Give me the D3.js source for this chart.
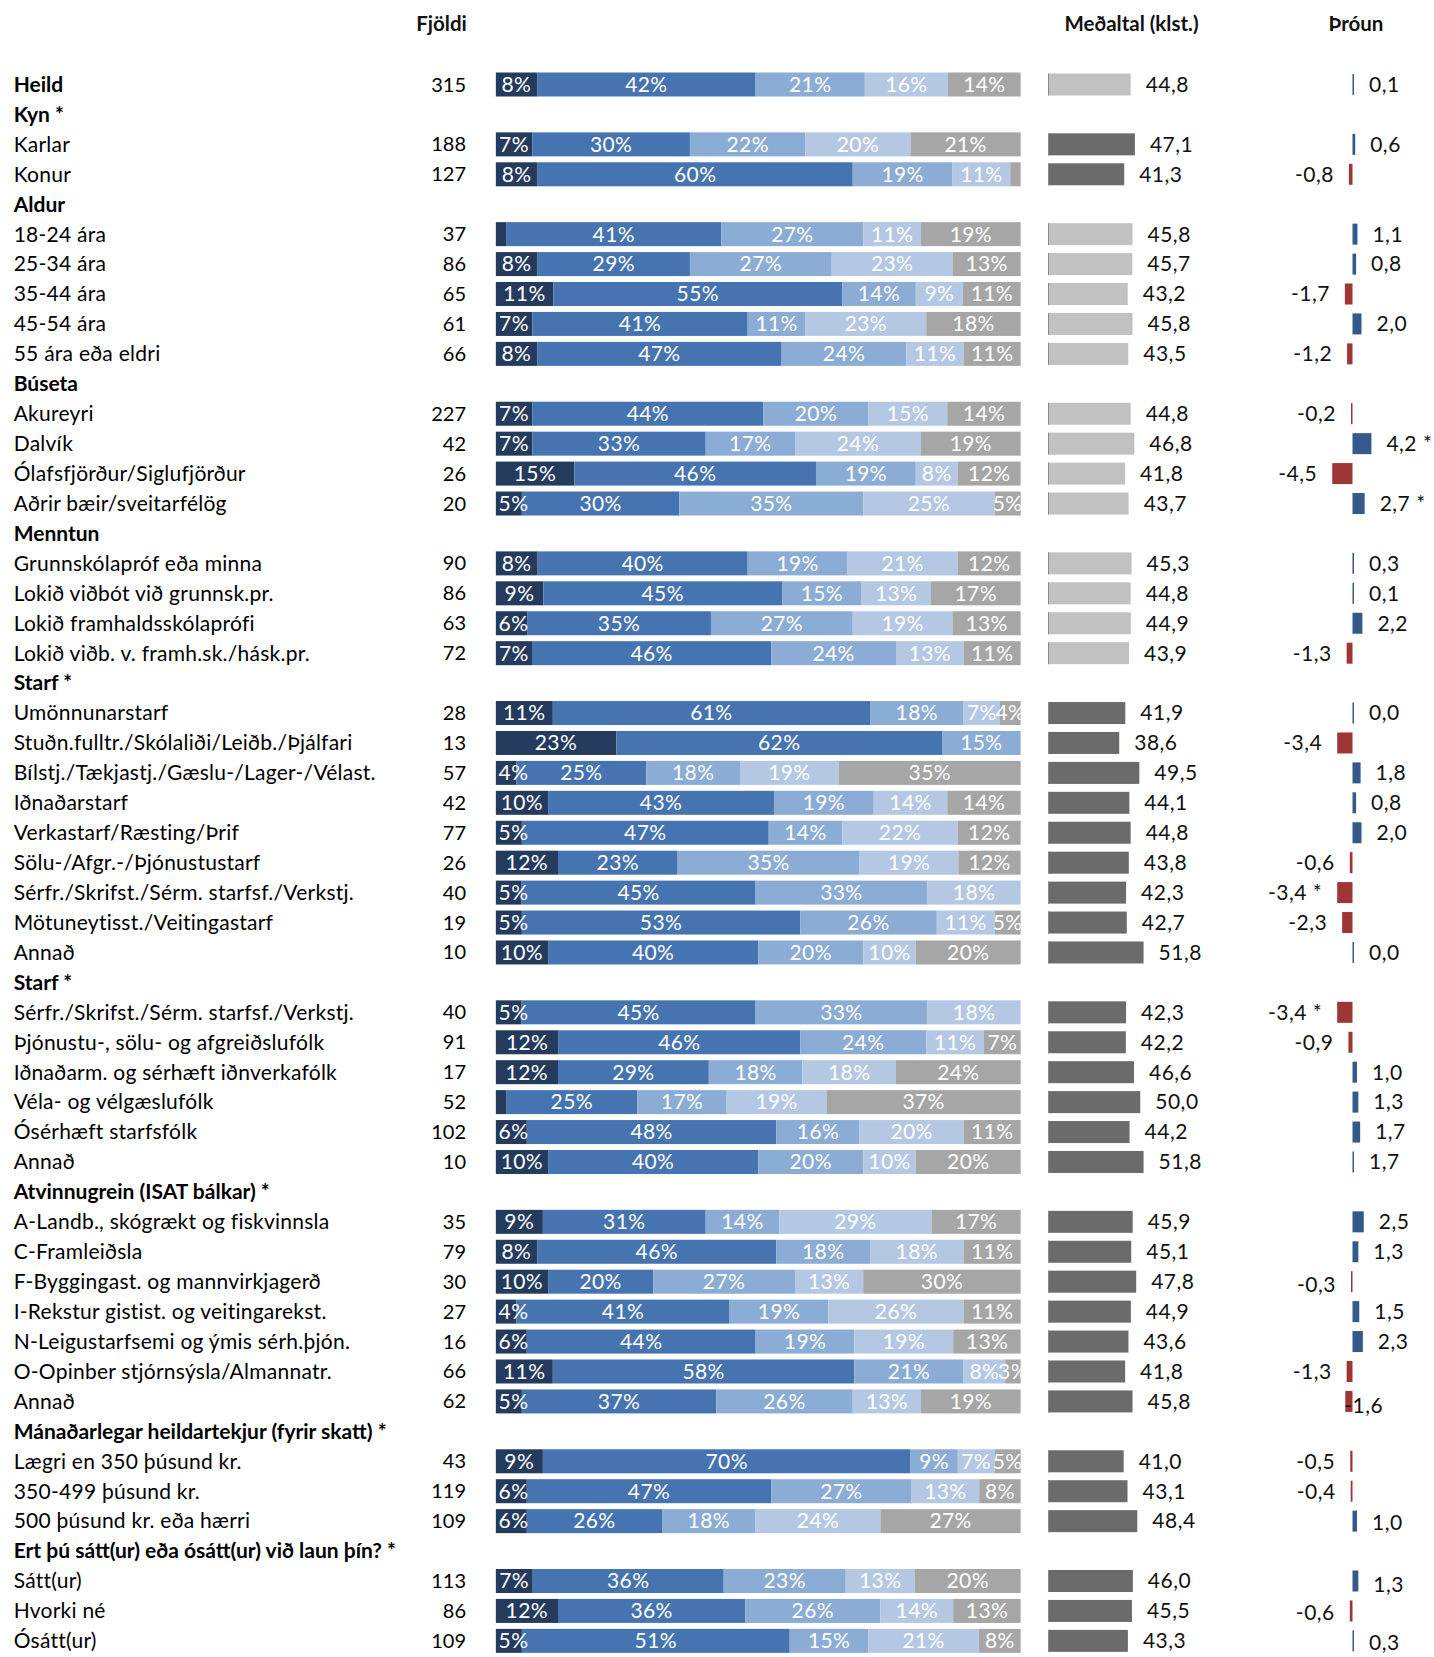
<!DOCTYPE html>
<html><head><meta charset="utf-8">
<script src="https://cdn.jsdelivr.net/npm/d3@7"></script>
<style>
html,body{margin:0;padding:0;background:#fff;}
svg{display:block;font-family:Lato,"Open Sans",sans-serif;}
</style></head><body>
<svg id="chart" width="1434" height="1657"></svg>
<script>
const categories = [
"Heild","Kyn *","Karlar","Konur","Aldur","18-24 ára","25-34 ára","35-44 ára","45-54 ára","55 ára eða eldri",
"Búseta","Akureyri","Dalvík","Ólafsfjörður/Siglufjörður","Aðrir bæir/sveitarfélög",
"Menntun","Grunnskólapróf eða minna","Lokið viðbót við grunnsk.pr.","Lokið framhaldsskólaprófi","Lokið viðb. v. framh.sk./hásk.pr.",
"Starf *","Umönnunarstarf","Stuðn.fulltr./Skólaliði/Leiðb./Þjálfari","Bílstj./Tækjastj./Gæslu-/Lager-/Vélast.","Iðnaðarstarf","Verkastarf/Ræsting/Þrif","Sölu-/Afgr.-/Þjónustustarf","Sérfr./Skrifst./Sérm. starfsf./Verkstj.","Mötuneytisst./Veitingastarf","Annað",
"Starf *","Sérfr./Skrifst./Sérm. starfsf./Verkstj.","Þjónustu-, sölu- og afgreiðslufólk","Iðnaðarm. og sérhæft iðnverkafólk","Véla- og vélgæslufólk","Ósérhæft starfsfólk","Annað",
"Atvinnugrein (ISAT bálkar) *","A-Landb., skógrækt og fiskvinnsla","C-Framleiðsla","F-Byggingast. og mannvirkjagerð","I-Rekstur gistist. og veitingarekst.","N-Leigustarfsemi og ýmis sérh.þjón.","O-Opinber stjórnsýsla/Almannatr.","Annað",
"Mánaðarlegar heildartekjur (fyrir skatt) *","Lægri en 350 þúsund kr.","350-499 þúsund kr.","500 þúsund kr. eða hærri",
"Ert þú sátt(ur) eða ósátt(ur) við laun þín? *","Sátt(ur)","Hvorki né","Ósátt(ur)"
];
const counts = [315,null,188,127,null,37,86,65,61,66,null,227,42,26,20,null,90,86,63,72,null,28,13,57,42,77,26,40,19,10,null,40,91,17,52,102,10,null,35,79,30,27,16,66,62,null,43,119,109,null,113,86,109];
const seg1 = [8,null,7,8,null,2,8,11,7,8,null,7,7,15,5,null,8,9,6,7,null,11,23,4,10,5,12,5,5,10,null,5,12,12,2,6,10,null,9,8,10,4,6,11,5,null,9,6,6,null,7,12,5];
const seg2 = [42,null,30,60,null,41,29,55,41,47,null,44,33,46,30,null,40,45,35,46,null,61,62,25,43,47,23,45,53,40,null,45,46,29,25,48,40,null,31,46,20,41,44,58,37,null,70,47,26,null,36,36,51];
const seg3 = [21,null,22,19,null,27,27,14,11,24,null,20,17,19,35,null,19,15,27,24,null,18,15,18,19,14,35,33,26,20,null,33,24,18,17,16,20,null,14,18,27,19,19,21,26,null,9,27,18,null,23,26,15];
const seg4 = [16,null,20,11,null,11,23,9,23,11,null,15,24,8,25,null,21,13,19,13,null,7,0,19,14,22,19,18,11,10,null,18,11,18,19,20,10,null,29,18,13,26,19,8,13,null,7,13,24,null,13,14,21];
const seg5 = [14,null,21,2,null,19,13,11,18,11,null,14,19,12,5,null,12,17,13,11,null,4,0,35,14,12,12,0,5,20,null,0,7,24,37,11,20,null,17,11,30,11,13,3,19,null,5,8,27,null,20,13,8];
const meanHours = [44.8,null,47.1,41.3,null,45.8,45.7,43.2,45.8,43.5,null,44.8,46.8,41.8,43.7,null,45.3,44.8,44.9,43.9,null,41.9,38.6,49.5,44.1,44.8,43.8,42.3,42.7,51.8,null,42.3,42.2,46.6,50.0,44.2,51.8,null,45.9,45.1,47.8,44.9,43.6,41.8,45.8,null,41.0,43.1,48.4,null,46.0,45.5,43.3];
const trendBars = [0.1,null,0.6,-0.8,null,1.1,0.8,-1.7,2.0,-1.2,null,-0.2,4.2,-4.5,2.7,null,0.3,0.1,2.2,-1.3,null,0.0,-3.4,1.8,0.8,2.0,-0.6,-3.4,-2.3,0.0,null,-3.4,-0.9,1.0,1.3,1.7,0.0,null,2.5,1.3,-0.3,1.5,2.3,-1.3,-1.6,null,-0.5,-0.4,1.0,null,1.3,-0.6,0.3];
const trendText = ["0,1",null,"0,6","-0,8",null,"1,1","0,8","-1,7","2,0","-1,2",null,"-0,2","4,2 *","-4,5","2,7 *",null,"0,3","0,1","2,2","-1,3",null,"0,0","-3,4","1,8","0,8","2,0","-0,6","-3,4 *","-2,3","0,0",null,"-3,4 *","-0,9","1,0","1,3","1,7","1,7",null,"2,5","1,3","-0,3","1,5","2,3","-1,3","-1,6",null,"-0,5","-0,4","1,0",null,"1,3","-0,6","0,3"];
const headers = ["Fjöldi","Meðaltal (klst.)","Þróun"];

// styles / layout
const segColors = ["#243b5e","#4674b1","#8bacd4","#b4c8e4","#a6a6a6"];
const meanLight = "#c1c1c1", meanDark = "#6b6b6b";
const posColor = "#335a8b", negColor = "#9e3636";
const FS = 21;
// per-row trend label adjustments: [dx, dy, anchorAtBarStart]
const labelNudge = {44:[-1,4,true],40:[0,3],50:[0,4],52:[0,2],51:[0,2],48:[0,2]};

const svg = d3.select("#chart");
const idx = d3.range(categories.length);
const y = d3.scalePoint().domain(idx).range([84.5, 84.5 + 52*29.93]);
const xShare = d3.scaleLinear().domain([0,1]).range([495.6,1020.8]);
const xMean = d3.scaleLinear().domain([0,52]).range([1048,1048+52*1.845]);
const xTrend = d3.scaleLinear().domain([-5,5]).range([1352.5-22.5,1352.5+22.5]);

// headers
svg.append("g").selectAll("text").data(headers).join("text")
  .attr("x",(d,i)=>[441.5,1131.5,1356][i]).attr("y",24).attr("dy","0.35em")
  .attr("text-anchor","middle").attr("font-weight","bold").attr("font-size",20.5)
  .attr("fill","#111").text(d=>d);

// row labels
let current = "";
const rows = idx.map(i=>{
  if(counts[i]===null) current = categories[i];
  return {i, label:categories[i], isHead: counts[i]===null, n:counts[i],
    s:[seg1[i],seg2[i],seg3[i],seg4[i],seg5[i]], mean:meanHours[i], tb:trendBars[i], tt:trendText[i],
    sig: i>0 && current.trim().endsWith("*")};
});
const dataRows = rows.filter(r=>!r.isHead);

svg.append("g").selectAll("text").data(rows).join("text")
  .attr("x",13.7).attr("y",d=>y(d.i)).attr("dy","0.35em")
  .attr("font-size",FS).attr("letter-spacing",d=>(d.isHead||d.i===0)?0:0.25)
  .attr("font-weight",d=>(d.isHead||d.i===0)?"bold":"normal")
  .attr("fill","#000").text(d=>d.label);

// counts
svg.append("g").selectAll("text").data(dataRows).join("text")
  .attr("x",466).attr("y",d=>y(d.i)).attr("dy","0.35em").attr("text-anchor","end")
  .attr("font-size",20).attr("fill","#000").text(d=>d.n);

// stacked shares
const keys = ["a","b","c","d","e"];
const stackInput = dataRows.map(r=>({i:r.i,a:r.s[0],b:r.s[1],c:r.s[2],d:r.s[3],e:r.s[4]}));
const stacked = d3.stack().keys(keys).offset(d3.stackOffsetExpand)(stackInput);
const BH = 24;
svg.append("defs").append("clipPath").attr("id","shareClip").append("rect")
  .attr("x",xShare(0)).attr("y",0).attr("width",xShare(1)-xShare(0)).attr("height",1657);
const gShare = svg.append("g").attr("clip-path","url(#shareClip)");
stacked.forEach((layer,k)=>{
  gShare.append("g").selectAll("rect").data(layer).join("rect")
    .attr("x",d=>xShare(d[0])).attr("width",d=>Math.max(0,xShare(d[1])-xShare(d[0])))
    .attr("y",d=>y(d.data.i)-BH/2).attr("height",BH).attr("fill",segColors[k]);
});
stacked.forEach((layer,k)=>{
  const vis = layer.filter(d=>d.data[keys[k]]>=3);
  const t = gShare.append("g").selectAll("text").data(vis).join("text")
    .attr("y",d=>y(d.data.i)).attr("dy","0.35em").attr("text-anchor","middle")
    .attr("font-size",FS).attr("letter-spacing",0.4).attr("fill","#fff").text(d=>d.data[keys[k]]+"%");
  t.each(function(d){
    const w = this.getComputedTextLength();
    const c = (xShare(d[0])+xShare(d[1]))/2;
    const x = Math.max(c, xShare(0)+3+w/2);
    d3.select(this).attr("x",x);
  });
});

// means
const MH = 22;
const fmt = v => d3.format(".1f")(v).replace(".",",");
const gMean = svg.append("g");
gMean.selectAll("rect").data(dataRows).join("rect")
  .attr("x",xMean(0)).attr("width",d=>xMean(d.mean)-xMean(0))
  .attr("y",d=>y(d.i)-MH/2).attr("height",MH)
  .attr("fill",d=>d.sig?meanDark:meanLight);
gMean.selectAll("line").data(dataRows).join("line")
  .attr("x1",xMean(0)+0.5).attr("x2",xMean(0)+0.5)
  .attr("y1",d=>y(d.i)-MH/2).attr("y2",d=>y(d.i)+MH/2)
  .attr("stroke","#8a8a8a").attr("stroke-width",1);
gMean.selectAll("text").data(dataRows).join("text")
  .attr("x",d=>xMean(d.mean)+15).attr("y",d=>y(d.i)).attr("dy","0.35em")
  .attr("font-size",FS).attr("letter-spacing",0.5).attr("fill","#111").text(d=>fmt(d.mean));

// trend
const TH = 21;
const tw = d => Math.max(1.5,Math.abs(xTrend(d.tb)-xTrend(0)));
const gTrend = svg.append("g");
gTrend.selectAll("rect").data(dataRows).join("rect")
  .attr("x",d=>d.tb<0? xTrend(0)-tw(d) : xTrend(0))
  .attr("width",tw)
  .attr("y",d=>y(d.i)-TH/2).attr("height",TH)
  .attr("fill",d=>d.tb<0?negColor:posColor);
gTrend.selectAll("text").data(dataRows).join("text")
  .attr("x",d=>{
    const nz=labelNudge[d.i]||[0,0,false];
    if(nz[2]) return xTrend(0)-tw(d)+nz[0];
    return (d.tb<0? xTrend(0)-tw(d)-15 : xTrend(0)+tw(d)+15)+nz[0];})
  .attr("y",d=>y(d.i)+(labelNudge[d.i]||[0,0])[1]).attr("dy","0.35em")
  .attr("text-anchor",d=>{const nz=labelNudge[d.i]; if(nz&&nz[2]) return "start"; return d.tb<0?"end":"start";})
  .attr("font-size",FS).attr("letter-spacing",0.5).attr("fill","#111").text(d=>d.tt);
</script>
</body></html>
